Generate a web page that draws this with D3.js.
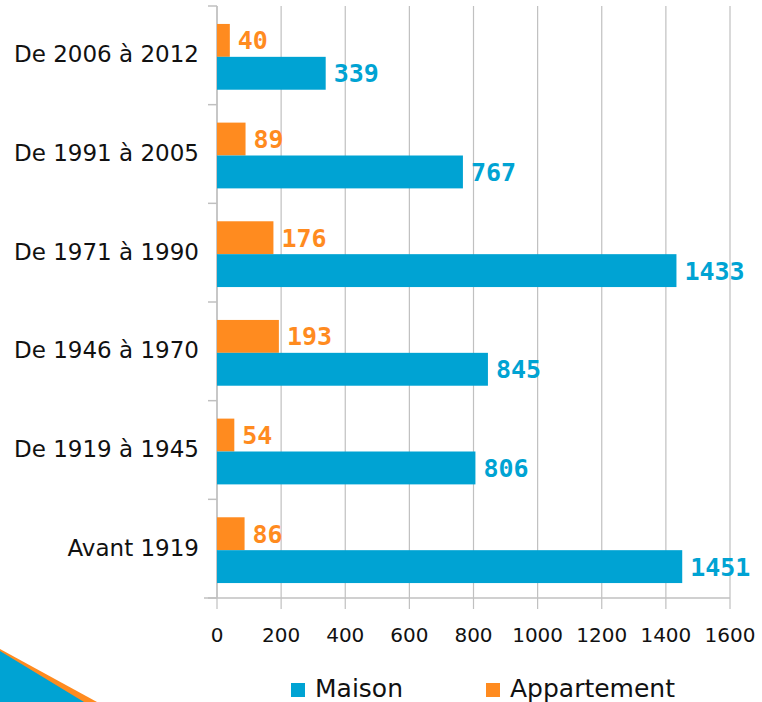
<!DOCTYPE html>
<html>
<head>
<meta charset="utf-8">
<script src="https://cdn.jsdelivr.net/npm/d3@7"></script>
<style>
  body { margin: 0; background: #fff; }
  svg { display: block; }
</style>
</head>
<body>
<svg id="chart" width="762" height="702"></svg>
<script>
var categories = ["De 2006 à 2012", "De 1991 à 2005", "De 1971 à 1990", "De 1946 à 1970", "De 1919 à 1945", "Avant 1919"];
var maison = [339, 767, 1433, 845, 806, 1451];
var appartement = [40, 89, 176, 193, 54, 86];
var xTicks = [0, 200, 400, 600, 800, 1000, 1200, 1400, 1600];
var seriesNames = ["Maison", "Appartement"];

var colors = { maison: "#00A3D3", appart: "#FF8B1F", grid: "#C0C0C0" };
var labelFont = "'DejaVu Sans', 'Liberation Sans', sans-serif";
var valueFont = "'DejaVu Sans Mono', 'Liberation Mono', monospace";

var svg = d3.select("#chart");
var margin = { left: 217, right: 32, top: 6, bottom: 104 };
var W = 762, H = 702;

var x = d3.scaleLinear().domain([0, 1600]).range([margin.left, W - margin.right]);
var y = d3.scaleBand().domain(categories).range([margin.top, H - margin.bottom]).paddingInner(0).paddingOuter(0);
var inner = d3.scaleBand().domain(["appart", "maison"]).range([1.5, y.bandwidth() + 1.5]).paddingInner(0).paddingOuter(0.5);

// bottom-left decoration
svg.append("polygon").attr("points", "0,649 97,702 0,702").attr("fill", colors.appart);
svg.append("polygon").attr("points", "0,651 84,702 0,702").attr("fill", colors.maison);

// vertical grid lines
svg.append("g").selectAll("line").data(xTicks).join("line")
    .attr("x1", d => x(d)).attr("x2", d => x(d))
    .attr("y1", margin.top).attr("y2", H - margin.bottom + 11)
    .attr("stroke", colors.grid).attr("stroke-width", 1.2);

// x axis line
svg.append("line")
    .attr("x1", margin.left - 13).attr("x2", x(1600))
    .attr("y1", H - margin.bottom).attr("y2", H - margin.bottom)
    .attr("stroke", colors.grid).attr("stroke-width", 1.5);

// y axis line + ticks
svg.append("line")
    .attr("x1", margin.left).attr("x2", margin.left)
    .attr("y1", margin.top).attr("y2", H - margin.bottom)
    .attr("stroke", colors.grid).attr("stroke-width", 1.5);
var yTickPos = categories.map(c => y(c)).concat([H - margin.bottom]);
svg.append("g").selectAll("line").data(yTickPos).join("line")
    .attr("x1", margin.left - 9).attr("x2", margin.left)
    .attr("y1", d => d).attr("y2", d => d)
    .attr("stroke", colors.grid).attr("stroke-width", 1.5);

// x tick labels
svg.append("g").selectAll("text").data(xTicks).join("text")
    .attr("x", d => x(d)).attr("y", 642)
    .attr("text-anchor", "middle")
    .attr("font-family", labelFont).attr("font-size", 20).attr("fill", "#111")
    .text(d => d);

// category labels
svg.append("g").selectAll("text").data(categories).join("text")
    .attr("x", 199).attr("y", d => y(d) + y.bandwidth() / 2 - 1)
    .attr("dy", "0.35em")
    .attr("text-anchor", "end")
    .attr("font-family", labelFont).attr("font-size", 23).attr("fill", "#111")
    .text(d => d);

var rows = categories.map((c, i) => ({ cat: c, maison: maison[i], appart: appartement[i] }));

var g = svg.append("g");
["appart", "maison"].forEach(key => {
    g.selectAll("rect." + key).data(rows).join("rect")
        .attr("class", key)
        .attr("x", x(0))
        .attr("y", d => y(d.cat) + inner(key))
        .attr("width", d => x(d[key]) - x(0))
        .attr("height", inner.bandwidth())
        .attr("fill", colors[key]);
    g.selectAll("text." + key).data(rows).join("text")
        .attr("class", key)
        .attr("x", d => x(d[key]) + 8)
        .attr("y", d => y(d.cat) + inner(key) + inner.bandwidth() / 2)
        .attr("dy", "0.36em")
        .attr("font-family", valueFont).attr("font-weight", "bold").attr("font-size", 25)
        .attr("fill", colors[key])
        .text(d => d[key]);
});

// legend
var legend = [
    { name: seriesNames[0], color: colors.maison, x: 291 },
    { name: seriesNames[1], color: colors.appart, x: 486 }
];
var lg = svg.append("g").selectAll("g").data(legend).join("g")
    .attr("transform", d => `translate(${d.x},683)`);
lg.append("rect").attr("width", 14).attr("height", 14).attr("fill", d => d.color);
lg.append("text").attr("x", 24).attr("y", 14)
    .attr("font-family", labelFont).attr("font-size", 25).attr("fill", "#111")
    .text(d => d.name);
</script>
</body>
</html>
